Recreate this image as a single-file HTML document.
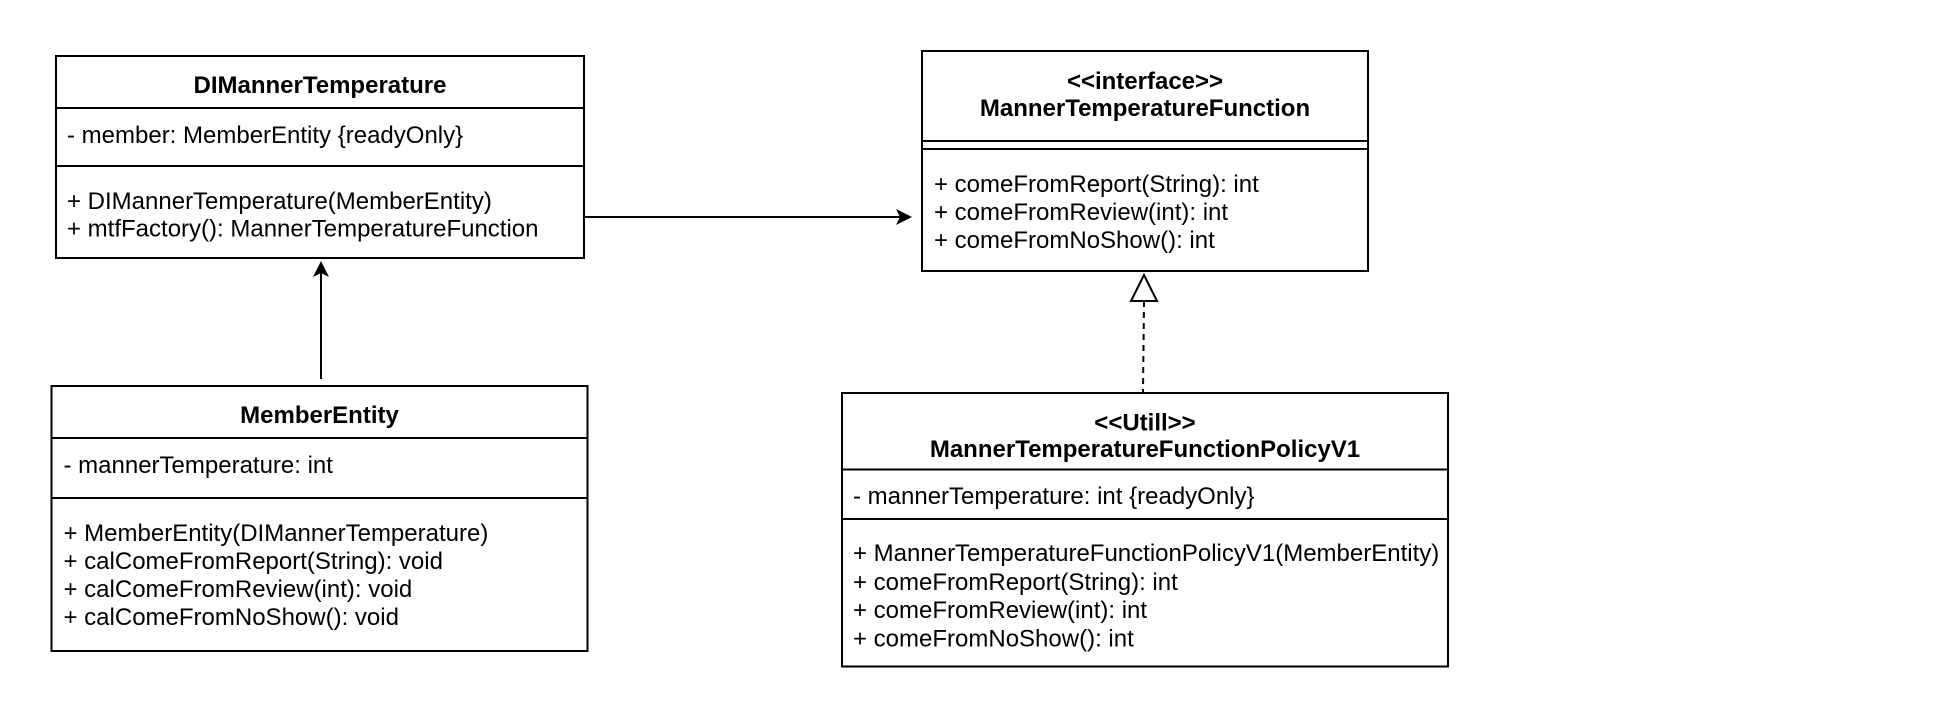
<!DOCTYPE html>
<html><head><meta charset="utf-8"><style>
html,body{margin:0;padding:0;background:#fff;}
svg{display:block;}
text{font-family:"Liberation Sans",Arial,sans-serif;font-size:24px;fill:#000;}
.b{font-weight:bold;}
</style></head><body>
<svg width="1942" height="724" viewBox="0 0 1942 724" xmlns="http://www.w3.org/2000/svg">
<g fill="none" stroke="#000" stroke-width="2">
<rect x="56" y="56" width="528" height="202"/>
<line x1="56" y1="108" x2="584" y2="108"/>
<line x1="56" y1="166" x2="584" y2="166"/>
<rect x="51.5" y="386" width="536" height="265"/>
<line x1="51.5" y1="438" x2="587.5" y2="438"/>
<line x1="51.5" y1="498" x2="587.5" y2="498"/>
<rect x="922" y="51" width="446" height="220"/>
<line x1="922" y1="141" x2="1368" y2="141"/>
<line x1="922" y1="149" x2="1368" y2="149"/>
<rect x="842" y="393" width="606" height="273.5"/>
<line x1="842" y1="469.5" x2="1448" y2="469.5"/>
<line x1="842" y1="519" x2="1448" y2="519"/>
<line x1="584" y1="217" x2="905" y2="217"/>
<line x1="321" y1="379" x2="321" y2="272"/>
<line x1="1144" y1="301" x2="1143" y2="392" stroke-dasharray="6,5"/>
<polygon points="1144,275 1131,301 1157,301" fill="#fff"/>
</g>
<polygon points="912,217 896,209 900,217 896,225" fill="#000"/>
<polygon points="321,261 313,277 321,273 329,277" fill="#000"/>

<text class="b" x="320" y="93" text-anchor="middle">DIMannerTemperature</text>
<text x="67" y="143">- member: MemberEntity {readyOnly}</text>
<text x="67" y="209">+ DIMannerTemperature(MemberEntity)</text>
<text x="67" y="236.5">+ mtfFactory(): MannerTemperatureFunction</text>

<text class="b" x="319.5" y="423" text-anchor="middle">MemberEntity</text>
<text x="63.5" y="473">- mannerTemperature: int</text>
<text x="63.5" y="541">+ MemberEntity(DIMannerTemperature)</text>
<text x="63.5" y="569">+ calComeFromReport(String): void</text>
<text x="63.5" y="597">+ calComeFromReview(int): void</text>
<text x="63.5" y="625">+ calComeFromNoShow(): void</text>

<text class="b" x="1145" y="89" text-anchor="middle">&lt;&lt;interface&gt;&gt;</text>
<text class="b" x="1145" y="116" text-anchor="middle">MannerTemperatureFunction</text>
<text x="934" y="192">+ comeFromReport(String): int</text>
<text x="934" y="220">+ comeFromReview(int): int</text>
<text x="934" y="248">+ comeFromNoShow(): int</text>

<text class="b" x="1145" y="430.5" text-anchor="middle">&lt;&lt;Utill&gt;&gt;</text>
<text class="b" x="1145" y="457" text-anchor="middle">MannerTemperatureFunctionPolicyV1</text>
<text x="853" y="504">- mannerTemperature: int {readyOnly}</text>
<text x="853" y="561">+ MannerTemperatureFunctionPolicyV1(MemberEntity)</text>
<text x="853" y="590">+ comeFromReport(String): int</text>
<text x="853" y="618">+ comeFromReview(int): int</text>
<text x="853" y="646.5">+ comeFromNoShow(): int</text>
</svg>
</body></html>
